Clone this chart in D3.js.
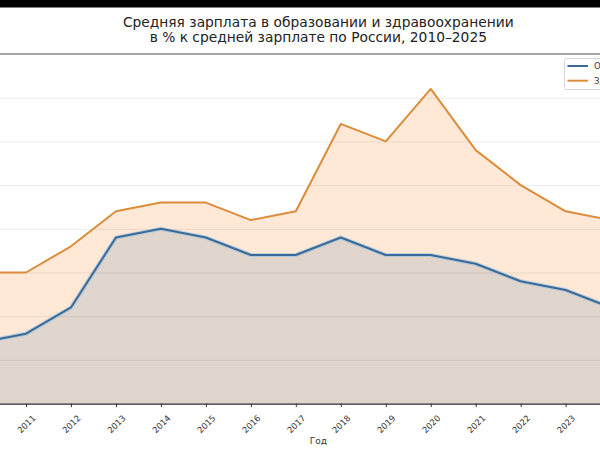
<!DOCTYPE html>
<html>
<head>
<meta charset="utf-8">
<script src="https://cdn.jsdelivr.net/npm/d3@7"></script>
<style>
    body { margin: 0; background: #fff; }
    svg { display: block; overflow: hidden; font-family: "DejaVu Sans", sans-serif; }
</style>
</head>
<body>
<div id="chart"></div>
<script>
// данные: % к средней зарплате по России
var years = [2010, 2011, 2012, 2013, 2014, 2015, 2016, 2017, 2018, 2019, 2020, 2021, 2022, 2023, 2024];
var education = [67, 68, 71, 79, 80, 79, 77, 77, 79, 77, 77, 76, 74, 73, 71];
var health = [75, 75, 78, 82, 83, 83, 81, 82, 92, 90, 96, 89, 85, 82, 81];
var tickYears = [2010, 2011, 2012, 2013, 2014, 2015, 2016, 2017, 2018, 2019, 2020, 2021, 2022, 2023, 2024, 2025];
var yTicks = [60, 65, 70, 75, 80, 85, 90, 95, 100];
var seriesNames = ["Образование", "Здравоохранение"];
var titleLines = ["Средняя зарплата в образовании и здравоохранении", "в % к средней зарплате по России, 2010–2025"];
var xLabel = "Год";

var width = 600;
var height = 450;
// область графика шире окна, края обрезаны как на скриншоте
var plot = { left: -52.7, right: 689.3, top: 54, bottom: 403.6 };
var colors = { edu: "#3a6a97", health: "#db8c3b" };

var svg = d3.select("#chart").append("svg")
    .attr("width", width)
    .attr("height", height);

svg.append("rect").attr("width", width).attr("height", height).style("fill", "#fff");

var pad = (d3.max(tickYears) - d3.min(tickYears)) * 0.05;
var x = d3.scaleLinear()
    .domain([d3.min(tickYears) - pad, d3.max(tickYears) + pad])
    .range([plot.left, plot.right]);
var y = d3.scaleLinear()
    .domain([d3.min(yTicks), d3.max(yTicks)])
    .range([plot.bottom, plot.top]);

function area(values) {
    return d3.area()
        .x(function (d, i) { return x(years[i]); })
        .y0(y.range()[0])
        .y1(function (d) { return y(d); })(values);
}
function line(values) {
    return d3.line()
        .x(function (d, i) { return x(years[i]); })
        .y(function (d) { return y(d); })(values);
}

// заливки
svg.append("path").attr("d", area(health))
    .style("fill", "#ff7f0e").style("fill-opacity", 0.17).style("stroke", "none");
svg.append("path").attr("d", area(education))
    .style("fill", "#1f5f94").style("fill-opacity", 0.14).style("stroke", "none");

// сетка
var grid = svg.append("g")
    .attr("transform", "translate(" + plot.left + ",0)")
    .call(d3.axisLeft(y).tickValues(yTicks).tickSize(-(plot.right - plot.left)).tickFormat(""));
grid.select(".domain").remove();
grid.selectAll("line").style("stroke", "#000").style("stroke-opacity", 0.08);

// линии
svg.append("path").attr("d", line(education))
    .style("fill", "none").style("stroke", "#9cc0dd").style("stroke-opacity", 0.6).style("stroke-width", 4.2);
svg.append("path").attr("d", line(education))
    .style("fill", "none").style("stroke", colors.edu).style("stroke-width", 2)
    .style("stroke-linejoin", "round");
svg.append("path").attr("d", line(health))
    .style("fill", "none").style("stroke", colors.health).style("stroke-width", 2)
    .style("stroke-linejoin", "round");

// верхняя рамка
svg.append("line")
    .attr("x1", plot.left).attr("x2", plot.right)
    .attr("y1", plot.top).attr("y2", plot.top)
    .style("stroke", "#8c8c8c").style("stroke-width", 1.5);

// ось X (подписи за краем окна не показываем)
var xAxis = svg.append("g")
    .attr("transform", "translate(0," + plot.bottom + ")")
    .call(d3.axisBottom(x).tickValues(tickYears).tickSize(3.5).tickSizeOuter(0)
        .tickFormat(function (d) {
            return (x(d) < 8 || x(d) > width - 8) ? "" : d3.format("d")(d);
        }));
xAxis.select(".domain").style("stroke", "#2b2b2b").style("stroke-width", 1.3);
xAxis.selectAll(".tick line").style("stroke", "#333");
xAxis.selectAll(".tick text")
    .attr("y", 0).attr("dy", 0)
    .attr("transform", "translate(0,20.5) rotate(-45)")
    .attr("dominant-baseline", "central")
    .style("text-anchor", "middle")
    .style("font-size", "8.5px")
    .style("fill", "#333")
    .style("font-family", "DejaVu Sans");

svg.append("text")
    .attr("x", (plot.left + plot.right) / 2)
    .attr("y", 444)
    .style("text-anchor", "middle")
    .style("font-size", "9px")
    .style("fill", "#333")
    .text(xLabel);

// заголовок
svg.selectAll("text.title").data(titleLines).enter().append("text")
    .classed("title", true)
    .attr("x", (plot.left + plot.right) / 2)
    .attr("y", function (d, i) { return 27 + i * 15; })
    .style("text-anchor", "middle")
    .style("font-size", "13.8px")
    .style("fill", "#222")
    .text(function (d) { return d; });

// легенда
var legend = svg.append("g").attr("transform", "translate(564.5,58.5)");
legend.append("rect")
    .attr("width", 118).attr("height", 31).attr("rx", 2)
    .style("fill", "#fff").style("fill-opacity", 0.8)
    .style("stroke", "#d6d6d6").style("stroke-width", 1);
var legendColors = [colors.edu, colors.health];
seriesNames.forEach(function (name, i) {
    legend.append("line")
        .attr("x1", 3).attr("x2", 23.5)
        .attr("y1", 7.5 + i * 14.7).attr("y2", 7.5 + i * 14.7)
        .style("stroke", legendColors[i]).style("stroke-width", 2);
    legend.append("text")
        .attr("x", 29.5).attr("y", 7.5 + i * 14.7)
        .attr("dominant-baseline", "central")
        .style("font-size", "8.5px")
        .style("fill", "#333")
        .text(name);
});

// чёрная полоса сверху (как на скриншоте)
svg.append("rect").attr("width", width).attr("height", 7.5).style("fill", "#000");
</script>
</body>
</html>
